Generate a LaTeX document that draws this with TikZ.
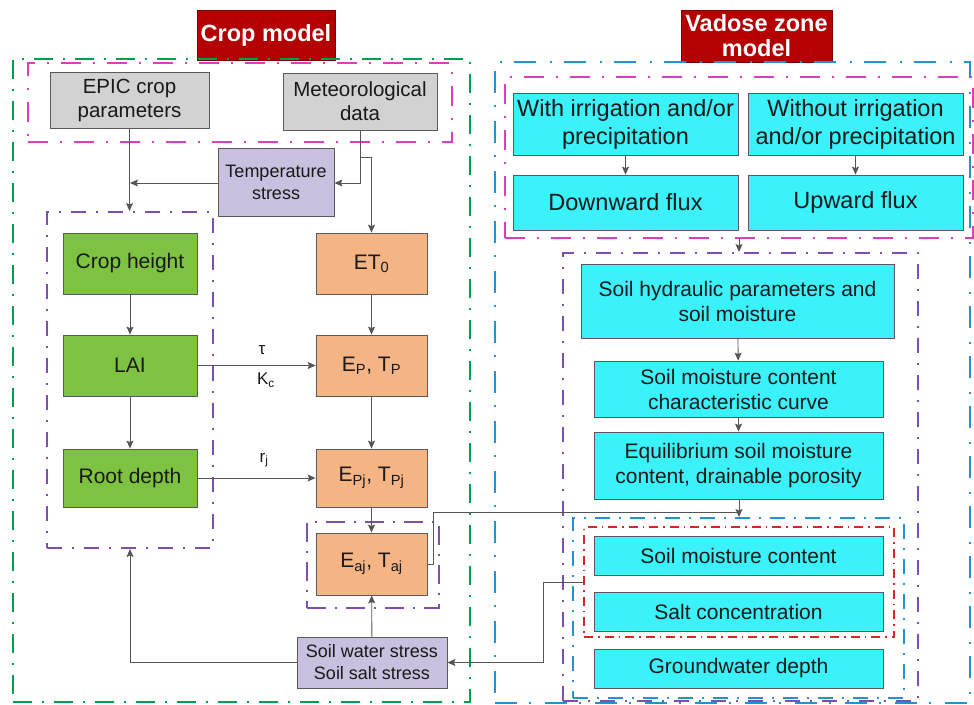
\documentclass[tikz,border=0pt]{standalone}
\usepackage{fontspec}
\setmainfont{Liberation Sans}
\usetikzlibrary{arrows.meta}
\definecolor{grpgreen}{RGB}{0,160,80}
\definecolor{grpmag}{RGB}{220,60,190}
\definecolor{grpblue}{RGB}{35,145,210}
\definecolor{grppurple}{RGB}{125,80,175}
\definecolor{grpred}{RGB}{210,40,40}
\definecolor{titlered}{RGB}{180,0,0}
\definecolor{fillgray}{RGB}{210,210,210}
\definecolor{filllav}{RGB}{200,192,222}
\definecolor{fillgreen}{RGB}{125,195,65}
\definecolor{fillorange}{RGB}{244,180,132}
\definecolor{fillcyan}{RGB}{60,242,250}
\definecolor{boxline}{RGB}{90,90,90}
\definecolor{arrowc}{RGB}{85,85,85}
\definecolor{txt}{RGB}{25,25,25}
\begin{document}
\begin{tikzpicture}[x=1pt,y=-1pt,
  box/.style={draw=boxline, line width=0.8pt, inner sep=1pt, align=center, text=txt},
  graybox/.style={box, fill=fillgray, font=\fontsize{20.5}{24}\selectfont},
  lavbox/.style={box, fill=filllav, font=\fontsize{18}{22}\selectfont},
  greenbox/.style={box, fill=fillgreen, font=\fontsize{21}{25}\selectfont, minimum width=134pt},
  orangebox/.style={box, fill=fillorange, font=\fontsize{21}{25}\selectfont, minimum width=111pt},
  cyanbig/.style={box, fill=fillcyan, font=\fontsize{23.5}{28}\selectfont},
  cyanbox/.style={box, fill=fillcyan, font=\fontsize{21}{25}\selectfont},
  titlebox/.style={draw=titlered!70!black, line width=0.8pt, fill=titlered, text=white, align=center, inner sep=0pt, font=\bfseries\fontsize{23.5}{25}\selectfont},
  grp/.style={inner sep=0pt, fill=none},
  greengrp/.style={grp, draw=grpgreen, line width=2.6pt, dash pattern=on 19pt off 10pt on 2pt off 10pt},
  maggrp/.style={grp, draw=grpmag, line width=2.4pt, dash pattern=on 20pt off 12pt on 2pt off 12pt},
  bluegrp/.style={grp, draw=grpblue, line width=2.4pt, dash pattern=on 22pt off 12pt on 2pt off 14pt},
  purgrp/.style={grp, draw=grppurple, line width=2pt, dash pattern=on 15pt off 10pt on 2pt off 10pt},
  bluegrpi/.style={grp, draw=grpblue, line width=2pt, dash pattern=on 15pt off 9pt on 2pt off 9pt},
  redgrp/.style={grp, draw=grpred, line width=1.5pt, dash pattern=on 9pt off 5pt on 1.5pt off 5pt},
  arr/.style={draw=arrowc, line width=0.9pt, -{Stealth[length=8pt,width=7pt,inset=1.5pt]}},
  ln/.style={draw=arrowc, line width=0.9pt},
  lbl/.style={text=txt, font=\fontsize{17}{20}\selectfont, inner sep=0pt}
]
\useasboundingbox (0,0) rectangle (974,704);

% titles
\node[titlebox, minimum width=138pt, minimum height=50pt] (tcrop) at (266,35) {Crop model};
\node[titlebox, minimum width=151pt, minimum height=52pt] (tvad) at (756.5,36) {Vadose zone\\model};

% group frames
\node[greengrp, minimum width=457pt, minimum height=643pt] (gGreen) at (241.5,380.5) {};
\node[maggrp, minimum width=424pt, minimum height=79pt] (gMagL) at (240,102.5) {};
\node[purgrp, minimum width=166pt, minimum height=336pt] (gPurL) at (130,380) {};
\node[purgrp, line width=2.4pt, dash pattern=on 19pt off 9pt on 2pt off 9pt, minimum width=132pt, minimum height=86pt] (gPurE) at (373,565) {};
\node[bluegrp, minimum width=475pt, minimum height=641pt] (gBlueO) at (732.5,382.5) {};
\node[maggrp, minimum width=468pt, minimum height=161pt] (gMagR) at (739,157.5) {};
\node[purgrp, minimum width=355pt, minimum height=448pt] (gPurR) at (740.5,477) {};
\node[bluegrpi, minimum width=331pt, minimum height=180pt] (gBlueI) at (738.5,608) {};
\node[redgrp, minimum width=310pt, minimum height=110pt] (gRed) at (739,582) {};

% crop model nodes
\node[graybox, minimum width=159pt, minimum height=56pt] (epic) at (129.5,100) {EPIC crop\\parameters};
\node[graybox, minimum width=154pt, minimum height=57pt] (met) at (360,101.5) {Meteorological\\data};
\node[lavbox, minimum width=116pt, minimum height=68pt] (temp) at (276,182) {Temperature\\stress};
\node[greenbox, minimum height=61pt] (ch) at (130,263.5) {Crop height};
\node[greenbox, minimum height=61pt] (lai) at (130,365.5) {LAI};
\node[greenbox, minimum height=58pt] (rd) at (130,478) {Root depth};
\node[orangebox, minimum height=61pt] (et0) at (371.5,263.5) {ET\textsubscript{0}};
\node[orangebox, minimum height=61pt] (ep) at (371.5,365.5) {E\textsubscript{P}, T\textsubscript{P}};
\node[orangebox, minimum height=58pt] (epj) at (371.5,478) {E\textsubscript{Pj}, T\textsubscript{Pj}};
\node[orangebox, minimum height=62pt] (eaj) at (371.5,564) {E\textsubscript{aj}, T\textsubscript{aj}};
\node[lavbox, minimum width=150pt, minimum height=51pt] (sws) at (372,662.5) {Soil water stress\\Soil salt stress};

% vadose zone nodes
\node[cyanbig, minimum width=225pt, minimum height=62pt] (wirr) at (625.5,124) {With irrigation and/or\\precipitation};
\node[cyanbig, minimum width=215pt, minimum height=62pt] (woirr) at (855.5,124) {Without irrigation\\and/or precipitation};
\node[cyanbig, minimum width=225pt, minimum height=55pt] (down) at (625.5,202.5) {Downward flux};
\node[cyanbig, minimum width=215pt, minimum height=55pt] (up) at (855.5,202.5) {Upward flux};
\node[cyanbox, minimum width=313pt, minimum height=74pt] (shp) at (737.5,301) {Soil hydraulic parameters and\\soil moisture};
\node[cyanbox, minimum width=289pt, minimum height=56pt] (smc) at (738.5,389) {Soil moisture content\\characteristic curve};
\node[cyanbox, minimum width=289pt, minimum height=67pt] (eq) at (738.5,465.5) {Equilibrium soil moisture\\content, drainable porosity};
\node[cyanbox, minimum width=289pt, minimum height=39pt] (sm) at (738.5,555.5) {Soil moisture content};
\node[cyanbox, minimum width=289pt, minimum height=39pt] (salt) at (738.5,611.5) {Salt concentration};
\node[cyanbox, minimum width=289pt, minimum height=39pt] (gw) at (738.5,668.5) {Groundwater depth};

% coordinates for bends
\coordinate (metbend) at (360,183);
\coordinate (metsplit) at (360,157);
\coordinate (metright) at (371.5,157);
\coordinate (tsleft) at (130,183);
\coordinate (eajout) at (433,564);
\coordinate (eajup) at (433,512);
\coordinate (eqjoin) at (739,512);
\coordinate (redout) at (543,582);
\coordinate (reddown) at (543,662.5);
\coordinate (swsleft) at (130,662.5);

% crop model connectors
\draw[arr] (epic.south) -- (epic.south |- gPurL.north);
\draw[arr] (temp.west |- tsleft) -- (tsleft);
\draw[arr] (met.south -| metbend) -- (metbend) -- (temp.east |- metbend);
\draw[arr] (metsplit) -- (metright) -- (et0.north);
\draw[arr] (ch) -- (lai);
\draw[arr] (lai) -- (rd);
\draw[arr] (et0) -- (ep);
\draw[arr] (ep) -- (epj);
\draw[arr] (epj) -- (eaj);
\draw[arr] (lai) -- (ep);
\draw[arr] (rd) -- (epj);
\draw[arr] (sws) -- (eaj);
\draw[arr] (sws.west) -- (swsleft) -- (swsleft |- gPurL.south);
\node[lbl] (ltau) at (262,350) {τ};
\node[lbl] (lkc) at (266,380) {K\textsubscript{c}};
\node[lbl] (lrj) at (264,460) {r\textsubscript{j}};

% vadose connectors
\draw[arr] (wirr) -- (down);
\draw[arr] (woirr) -- (up);
\draw[arr] (gMagR.south -| eqjoin) -- (gPurR.north -| eqjoin);
\draw[arr] (shp) -- (smc);
\draw[arr] (smc) -- (eq);
\draw[arr] (eq.south -| eqjoin) -- (gBlueI.north -| eqjoin);
\draw[ln] (eaj.east |- eajout) -- (eajout) -- (eajup) -- (eqjoin);
\draw[arr] (gRed.west |- redout) -- (redout) -- (reddown) -- (sws.east);
\end{tikzpicture}
\end{document}
